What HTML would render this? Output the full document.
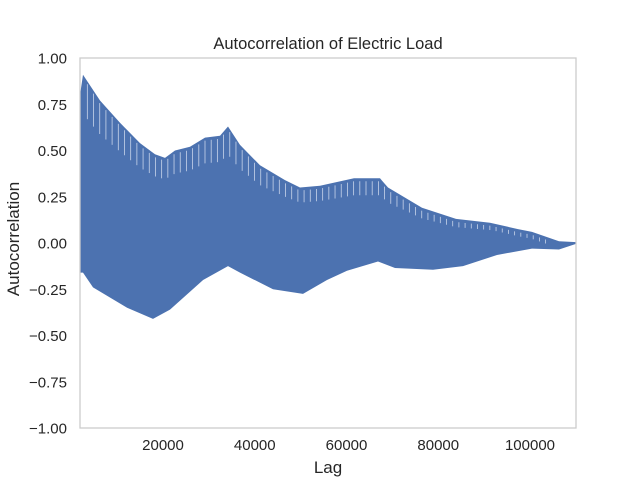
<!DOCTYPE html>
<html><head><meta charset="utf-8"><style>
body{margin:0;background:#fff;}
svg{display:block;font-family:"Liberation Sans",sans-serif;}
</style></head><body>
<svg id="chart" width="640" height="480">
<text x="328" y="49" text-anchor="middle" font-size="16.5" fill="#262626">Autocorrelation of Electric Load</text>
<g id="plot"></g>
<rect x="80" y="58" width="496" height="370" fill="none" stroke="#cccccc" stroke-width="1.3"/>
<g id="yticks"></g><g id="xticks"></g>
<text x="328" y="473" text-anchor="middle" font-size="17" fill="#262626">Lag</text>
<text transform="translate(19,239) rotate(-90)" text-anchor="middle" font-size="17" fill="#262626">Autocorrelation</text>
</svg>
<script>
const upperLags=[1900,2560,6270,10630,14990,18260,20440,22620,25890,29160,32430,34170,36790,41140,46590,49860,54220,61630,67300,69040,76460,83870,91280,97380,100440,106320,110030];
const upperVals=[0.80,0.91,0.77,0.65,0.54,0.48,0.46,0.50,0.52,0.57,0.58,0.63,0.53,0.42,0.34,0.30,0.31,0.35,0.35,0.30,0.19,0.13,0.11,0.075,0.06,0.01,0.005];
const lowerLags=[1900,2560,4740,12160,17820,21530,28730,34170,36790,43980,50520,55750,60110,66870,70570,78860,85400,92810,100440,106320,110030];
const lowerVals=[-0.16,-0.16,-0.24,-0.35,-0.41,-0.36,-0.20,-0.125,-0.16,-0.25,-0.275,-0.20,-0.15,-0.10,-0.135,-0.145,-0.125,-0.065,-0.03,-0.035,-0.005];
const yTicks=[1.00,0.75,0.50,0.25,0.00,-0.25,-0.50,-0.75,-1.00];
const xTicks=[20000,40000,60000,80000,100000];
const NS="http://www.w3.org/2000/svg";
const xMin=1900,xMax=110030;
function xs(v){return 80+(v-xMin)/(xMax-xMin)*496;}
function ys(v){return 243-v*185;}
function interp(lags,vals,l){for(let i=0;i<lags.length-1;i++){if(l>=lags[i]&&l<=lags[i+1]){const t=(l-lags[i])/(lags[i+1]-lags[i]);return vals[i]+t*(vals[i+1]-vals[i]);}}return vals[vals.length-1];}
const plot=document.getElementById('plot');
let d='';
upperLags.forEach((l,i)=>{d+=(i?'L':'M')+xs(l).toFixed(1)+','+ys(upperVals[i]).toFixed(1);});
for(let i=lowerLags.length-1;i>=0;i--){d+='L'+xs(lowerLags[i]).toFixed(1)+','+ys(lowerVals[i]).toFixed(1);}
d+='Z';
const band=document.createElementNS(NS,'path');
band.setAttribute('d',d);band.setAttribute('fill','#4c72b0');


plot.appendChild(band);
for(let l=3500;l<104000;l+=1350){
  const u=interp(upperLags,upperVals,l);
  const ln=document.createElementNS(NS,'line');
  const x=xs(l);
  ln.setAttribute('x1',x);ln.setAttribute('x2',x);
  ln.setAttribute('y1',ys(u)+3);ln.setAttribute('y2',ys(u)+3+Math.max(4,u*40));
  ln.setAttribute('stroke','#c8d4ea');ln.setAttribute('stroke-width','0.8');
  
  
  plot.appendChild(ln);
}
const yg=document.getElementById('yticks');
yTicks.forEach(v=>{const t=document.createElementNS(NS,'text');t.setAttribute('x',67);t.setAttribute('y',ys(v)+5.5);t.setAttribute('text-anchor','end');t.setAttribute('font-size','15');t.setAttribute('fill','#262626');t.textContent=v.toFixed(2).replace('-','\u2212');


yg.appendChild(t);});
const xg=document.getElementById('xticks');
xTicks.forEach(v=>{const t=document.createElementNS(NS,'text');t.setAttribute('x',xs(v));t.setAttribute('y',450);t.setAttribute('text-anchor','middle');t.setAttribute('font-size','15');t.setAttribute('fill','#262626');t.textContent=v;


xg.appendChild(t);});
</script>
</body></html>
